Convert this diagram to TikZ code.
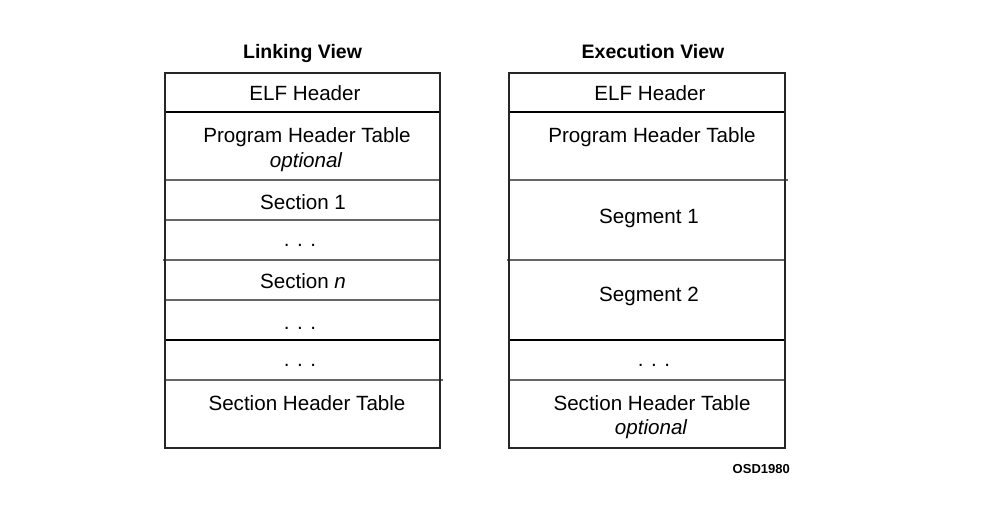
\documentclass[tikz,border=0pt]{standalone}
\usepackage{fontspec}
\setmainfont{Liberation Sans}
\begin{document}
\begin{tikzpicture}[x=1pt,y=-1pt,
  frame/.style={draw=black!85, line width=1.15pt},
  rule/.style={draw=black, line width=1.05pt},
  softrule/.style={draw=black!60, line width=1.25pt},
  label/.style={anchor=base, inner sep=0pt, font=\fontsize{20.6}{24}\selectfont},
  note/.style={anchor=base, inner sep=0pt, font=\fontsize{20.6}{24}\selectfont\itshape},
  title/.style={anchor=base, inner sep=0pt, font=\fontsize{19.5}{24}\selectfont\bfseries},
  tag/.style={anchor=base east, inner sep=0pt, font=\fontsize{13}{16}\selectfont\bfseries}]
\useasboundingbox (0,0) rectangle (1002,513);

% ---- linking view ----
\node[title] (ltitle) at (302.5,58.3) {Linking View};
\draw[rule] (165,112) -- (440,112);
\draw[softrule] (165,180) -- (440,180);
\draw[softrule] (165,220) -- (440,220);
\draw[softrule] (163,260) -- (440,260);
\draw[softrule] (165,300) -- (440,300);
\draw[rule] (165,340) -- (440,340);
\draw[softrule] (165,380) -- (443,380);
\draw[frame] (165,73) rectangle (440,448);
\node[label] (lelf) at (305,101) {ELF Header};
\node[label] (lpht) at (307,142.3) {Program Header Table};
\node[note] (lopt) at (306,167.3) {optional};
\node[label] (lsec1) at (303,209.3) {Section 1};
\node[label] (ldots1) at (300,246.7) {. . .};
\node[label] (lsecn) at (303,288.3) {Section \textit{n}};
\node[label] (ldots2) at (300,330) {. . .};
\node[label] (ldots3) at (300,366) {. . .};
\node[label] (lsht) at (307,410.7) {Section Header Table};

% ---- execution view ----
\node[title] (etitle) at (653,58.3) {Execution View};
\draw[rule] (509,112) -- (785,112);
\draw[softrule] (509,180) -- (788,180);
\draw[softrule] (507,260) -- (785,260);
\draw[rule] (509,340) -- (785,340);
\draw[softrule] (509,380) -- (785,380);
\draw[frame] (509,73) rectangle (785,448);
\node[label] (eelf) at (650,101) {ELF Header};
\node[label] (epht) at (652,142.3) {Program Header Table};
\node[label] (eseg1) at (649,223.3) {Segment 1};
\node[label] (eseg2) at (649,301.7) {Segment 2};
\node[label] (edots) at (654,366) {. . .};
\node[label] (esht) at (652,410.7) {Section Header Table};
\node[note] (eopt) at (651,434) {optional};

\node[tag] (osd) at (790,473.3) {OSD1980};
\end{tikzpicture}
\end{document}
